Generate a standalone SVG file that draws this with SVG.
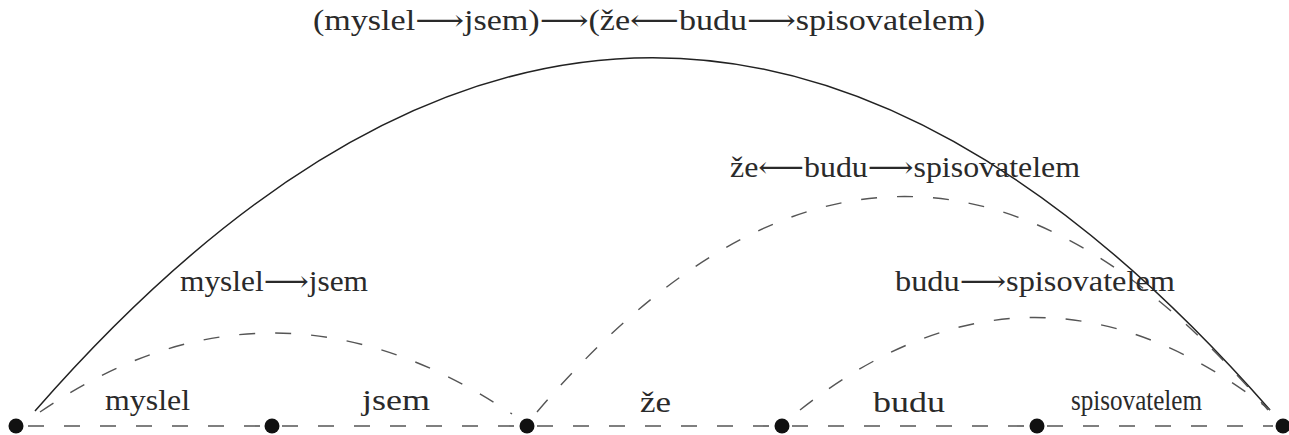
<svg xmlns="http://www.w3.org/2000/svg" width="1289" height="435" viewBox="0 0 1289 435">
<style>
.bg{fill:#fff}
.dot{fill:#111}
.base{stroke:#555;stroke-width:1.6;stroke-dasharray:16 20;fill:none}
.arc{stroke:#555;stroke-width:1.4;stroke-dasharray:16 20;fill:none}
.solid{stroke:#222;stroke-width:1.5;fill:none}
.lbl{font-family:'Liberation Serif','Times New Roman','DejaVu Serif',serif;font-size:29px;fill:#2a2a2a}
</style>
<rect class="bg" x="0" y="0" width="1289" height="435"/>
<g id="connectors">
<path class="base" d="M28,426 H262"/>
<path class="base" d="M282,426 H517"/>
<path class="base" d="M537,426 H772"/>
<path class="base" d="M792,426 H1027"/>
<path class="base" d="M1047,426 H1273"/>
<path class="solid" d="M35,411 Q652,-295 1270,410"/>
<path class="arc" d="M40,412 Q272,253 512,414"/>
<path class="arc" d="M537,412 Q905,-18 1268,410"/>
<path class="arc" d="M800,410 Q1035,225 1270,410"/>
</g>
<g id="labels">
<text class="lbl" x="313" y="30" textLength="672" lengthAdjust="spacingAndGlyphs">(myslel⟶jsem)⟶(že⟵budu⟶spisovatelem)</text>
<text class="lbl" x="730" y="177" textLength="350" lengthAdjust="spacingAndGlyphs">že⟵budu⟶spisovatelem</text>
<text class="lbl" x="180" y="291" textLength="188" lengthAdjust="spacingAndGlyphs">myslel⟶jsem</text>
<text class="lbl" x="895" y="291" textLength="280" lengthAdjust="spacingAndGlyphs">budu⟶spisovatelem</text>
<text class="lbl" x="105" y="410" textLength="85" lengthAdjust="spacingAndGlyphs">myslel</text>
<text class="lbl" x="362" y="410" textLength="68" lengthAdjust="spacingAndGlyphs">jsem</text>
<text class="lbl" x="640" y="412" textLength="31" lengthAdjust="spacingAndGlyphs">že</text>
<text class="lbl" x="873" y="412" textLength="72" lengthAdjust="spacingAndGlyphs">budu</text>
<text class="lbl" x="1071" y="410" textLength="131" lengthAdjust="spacingAndGlyphs">spisovatelem</text>
</g>
<g id="node-1"><circle class="dot" cx="16" cy="426" r="7.5"/></g>
<g id="node-2"><circle class="dot" cx="272" cy="426" r="7.5"/></g>
<g id="node-3"><circle class="dot" cx="527" cy="426" r="7.5"/></g>
<g id="node-4"><circle class="dot" cx="782" cy="426" r="7.5"/></g>
<g id="node-5"><circle class="dot" cx="1037" cy="426" r="7.5"/></g>
<g id="node-6"><circle class="dot" cx="1283" cy="426" r="7.5"/></g>
</svg>
